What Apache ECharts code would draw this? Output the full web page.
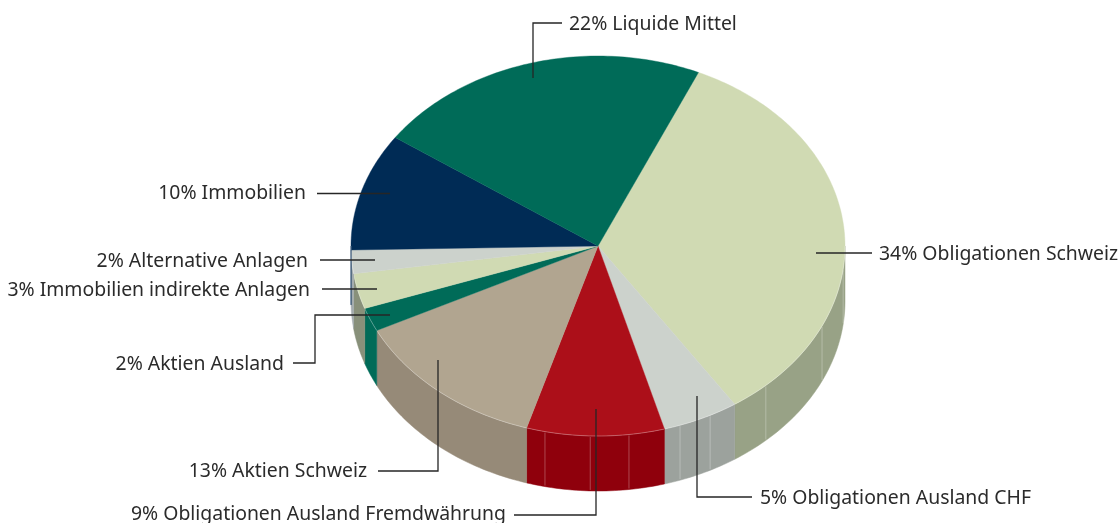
<!DOCTYPE html>
<html>
<head>
<meta charset="utf-8">
<style>html,body{margin:0;padding:0;background:#fff}#c{width:1120px;height:523px}</style>
<script src="https://cdn.jsdelivr.net/npm/echarts@6/dist/echarts.min.js"></script>
</head>
<body>
<div id="c"></div>
<script>
var categories = ['Obligationen Schweiz','Obligationen Ausland CHF','Obligationen Ausland Fremdwährung','Aktien Schweiz','Aktien Ausland','Immobilien indirekte Anlagen','Alternative Anlagen','Immobilien','Liquide Mittel'];
var shares = [34,5,9,13,2,3,2,10,22];
var topColors = ['#d0dab3','#ccd2cc','#ac0f19','#b1a590','#006b58','#d0dab3','#ccd2cc','#002b55','#006b58'];
var wallColors = ['#98a286','#9ca29d','#8f000c','#968a78','#006b58','#88907a','#a3abae','#002b55','#006b58'];
var facetAngles = [97,114.9,137.2,153,160.6,172.8,181.8,192.4];
var leaders = [
 [[816,253],[872,253]],
 [[697,396],[697,497],[752,497]],
 [[596,409],[596,515],[514,515]],
 [[438,360],[438,471],[378,471]],
 [[390,315],[315,315],[315,363],[293,363]],
 [[322,289],[377,289]],
 [[320,260],[375,260]],
 [[317,193.5],[390,193.5]],
 [[533,78],[533,23],[562,23]]
];
var labelSpots = [[879,254,'left'],[760,498,'left'],[506,514,'right'],[367,471,'right'],[284,364,'right'],[310,290,'right'],[308,261,'right'],[306,193,'right'],[569,24,'left']];

var CX=598, CY=246, RX=247, RY=190, DEPTH=55, START=24;
function pt(deg,dy){var r=deg*Math.PI/180;return [CX+RX*Math.sin(r),CY-RY*Math.cos(r)+(dy||0)];}
function arc(a,b,dy){var n=Math.max(2,Math.ceil(Math.abs(b-a))),p=[];for(var i=0;i<=n;i++){p.push(pt(a+(b-a)*i/n,dy));}return p;}
var total=shares.reduce(function(s,v){return s+v;},0);

function renderSlice(params,api){
  var i=params.dataIndex, before=0;
  for(var k=0;k<i;k++){before+=shares[k];}
  var a=START+before/total*360, b=a+api.value(0)/total*360, kids=[];
  var wa=Math.max(a,90), wb=Math.min(b,270);
  if(wb>wa){
    var pts=arc(wa,wb,0).concat(arc(wb,wa,DEPTH));
    kids.push({type:'polygon',shape:{points:pts},style:{fill:wallColors[i],stroke:wallColors[i],lineWidth:0.5}});
    facetAngles.forEach(function(f){
      if(f>wa&&f<wb){kids.push({type:'polyline',shape:{points:[pt(f,1),pt(f,DEPTH-1)]},style:{fill:null,stroke:'rgba(255,255,255,0.28)',lineWidth:1}});}
    });
  }
  var top=[[CX,CY]].concat(arc(a,b,0));
  kids.push({type:'polygon',shape:{points:top},style:{fill:topColors[i],stroke:topColors[i],lineWidth:0.4}});
  if(wb>wa){kids.push({type:'polyline',shape:{points:arc(wa,wb,0)},style:{fill:null,stroke:'rgba(255,255,255,0.3)',lineWidth:1}});}
  return {type:'group',children:kids};
}

var graphics=[];
leaders.forEach(function(l){
  graphics.push({type:'polyline',z:10,shape:{points:l},style:{fill:null,stroke:'#262626',lineWidth:1.3}});
});
labelSpots.forEach(function(s,i){
  graphics.push({type:'text',z:11,x:s[0],y:s[1],style:{text:shares[i]+'% '+categories[i],fill:'#2b2b2b',font:'19.4px "Noto Sans"',textAlign:s[2],textVerticalAlign:'middle'}});
});

var chart=echarts.init(document.getElementById('c'),null,{renderer:'canvas'});
chart.setOption({
  animation:false,
  backgroundColor:'#fff',
  series:[{type:'custom',coordinateSystem:'none',renderItem:renderSlice,data:shares.map(function(v){return [v];}),silent:true}],
  graphic:graphics
});
</script>
</body>
</html>
